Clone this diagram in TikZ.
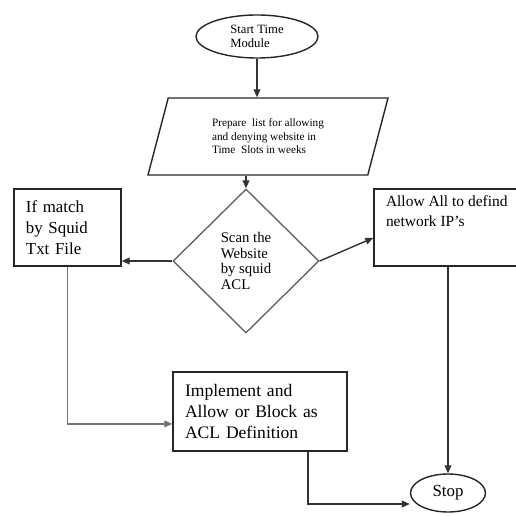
\documentclass[tikz,border=0pt]{standalone}
\usepackage{fontspec}
\setmainfont{Liberation Serif}
\usetikzlibrary{shapes.geometric,arrows.meta}

\begin{document}
\begin{tikzpicture}[x=0.25mm,y=-0.25mm,
   every node/.style={line width=0.35mm,draw=black!85},
   startstop/.style={ellipse,inner sep=0pt},
   iobox/.style={trapezium,trapezium left angle=60,trapezium right angle=120,
      trapezium stretches body,inner sep=0pt},
   decision/.style={diamond,inner sep=0pt,draw=black!60},
   process/.style={rectangle,inner xsep=3mm,align=left},
   arr/.style={line width=0.35mm,draw=black!80,-{Triangle[length=2mm,width=1.7mm]}}]
   \clip (0,0) rectangle (516,516);

   % nodes
   \node[startstop,minimum width=30.5mm,minimum height=10.75mm,align=left,
      font=\fontsize{9}{9.5}\selectfont] (start) at (257,36.5) {Start Time\\Module};
   \node[iobox,minimum width=60mm,minimum height=19.25mm,align=left,
      font=\fontsize{8}{9.6}\selectfont] (prep) at (268,136.5)
      {Prepare~ list for allowing\\and denying website in\\Time~ Slots in weeks};
   \node[decision,minimum width=36.5mm,minimum height=36mm,align=left,
      font=\fontsize{10.5}{11.2}\selectfont] (scan) at (246,261)
      {Scan the\\Website\\by squid\\ACL};
   \node[process,text width=20.75mm,minimum height=19.25mm,
      font=\fontsize{12}{15}\selectfont] (iftxt) at (67.5,227.5)
      {If match\\by Squid\\Txt File};
   \node[process,minimum width=37mm,minimum height=19.25mm,
      font=\fontsize{11}{14.2}\selectfont] (allow) at (448,227.5)
      {\parbox[t][15.75mm][t]{31mm}{Allow All to defind\\network IP's}};
   \node[process,text width=37.5mm,minimum height=19.75mm,
      font=\fontsize{12.5}{15}\selectfont] (impl) at (260,411.5)
      {Implement and\\Allow or Block as\\ACL Definition};
   \node[startstop,minimum width=18.75mm,minimum height=9.5mm,
      font=\fontsize{12}{14}\selectfont] (stop) at (448,493) {Stop};

   % connectors
   \draw[arr] (start.south) -- (start.south |- prep.north);
   \draw[arr] (scan.north |- prep.south) -- (scan.north);
   \draw[arr] (scan.west) -- (scan.west -| iftxt.east);
   \draw[arr] (scan.east) -- ([yshift=-2.6mm]allow.west);
   \draw[arr,draw=black!55] (iftxt.south) |- ([yshift=-3.1mm]impl.west);
   \draw[arr] (allow.south) -- (stop.north);
   \draw[arr] ([xshift=12mm]impl.south) |- ([yshift=-2.75mm]stop.west);
\end{tikzpicture}
\end{document}
